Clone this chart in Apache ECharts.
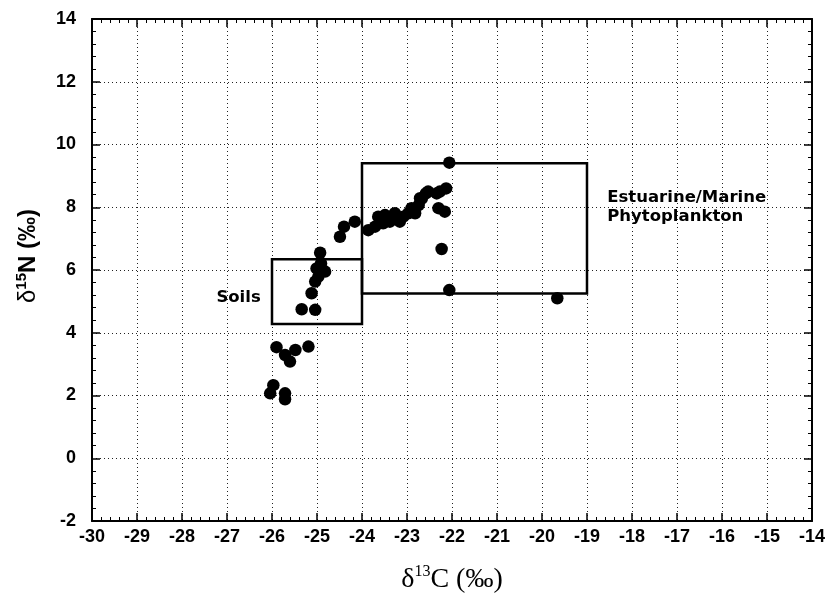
<!DOCTYPE html>
<html>
<head>
<meta charset="utf-8">
<script src="https://cdn.jsdelivr.net/npm/echarts@6/dist/echarts.min.js"></script>
<style>
  html, body { margin: 0; padding: 0; background: #ffffff; }
  #chart { width: 828px; height: 604px; }
</style>
</head>
<body>
<div id="chart"></div>
<script>
// Sample isotope values: δ13C (x) and δ15N (y), per mil
const carbon13 = [
  -22.06, -22.13, -22.27, -22.34, -22.53, -22.58, -22.67, -22.71, -22.74, -22.82,
  -22.90, -22.97, -23.08, -23.16, -23.27, -23.30, -23.38, -23.49, -23.53, -23.64,
  -23.71, -23.86, -24.16, -24.40, -24.49, -22.30, -22.16, -22.23, -22.06, -19.66,
  -24.93, -24.91, -25.01, -24.82, -24.97, -25.04, -25.12, -25.34, -25.04,
  -25.90, -25.71, -25.60, -25.48, -25.19, -25.97, -26.04, -25.71, -25.71
];
const nitrogen15 = [
   9.42,  8.60,  8.50,  8.44,  8.50,  8.44,  8.28,  8.29,  8.07,  7.81,
   7.97,  7.81,  7.70,  7.54,  7.81,  7.65,  7.54,  7.75,  7.49,  7.70,
   7.38,  7.27,  7.54,  7.38,  7.06,  7.97,  7.86,  6.67,  5.36,  5.10,
   6.55,  6.21,  6.05,  5.95,  5.79,  5.63,  5.26,  4.75,  4.73,
   3.54,  3.29,  3.08,  3.45,  3.56,  2.33,  2.07,  2.07,  1.88
];

// Source end-member ranges
const soilsRangeC = [-26, -24];
const soilsRangeN = [4.28, 6.34];
const phytoRangeC = [-24, -19];
const phytoRangeN = [5.25, 9.40];
const soilsLabel = 'Soils';
const phytoLabel = 'Estuarine/Marine\nPhytoplankton';

// Axis ranges and tick steps
const xRange = [-30, -14];
const xStep = 1;
const yRange = [-2, 14];
const yStep = 2;

const points = carbon13.map((c, i) => [c, nitrogen15[i]]);

const sansFont = '"Liberation Sans", Arial, sans-serif';
const wideFont = '"DejaVu Sans", sans-serif';
const serifFont = '"Liberation Serif", "Times New Roman", serif';

const axisLineStyle = { lineStyle: { color: '#000', width: 2 } };
const tickStyle = { inside: true, length: 8, lineStyle: { color: '#000', width: 1.5 } };
const minorStyle = { show: true, splitNumber: 5, length: 4, lineStyle: { color: '#000', width: 1 } };
const gridDots = { show: true, lineStyle: { color: '#222', width: 1, type: [1, 3] } };

function frameAxis(position, range, step, extra) {
  return Object.assign({
    type: 'value',
    position: position,
    min: range[0],
    max: range[1],
    interval: step,
    axisLine: Object.assign({ show: true, onZero: false }, axisLineStyle),
    axisTick: tickStyle,
    minorTick: minorStyle,
    splitLine: { show: false },
    axisLabel: { show: false }
  }, extra || {});
}

const chart = echarts.init(document.getElementById('chart'), null, { renderer: 'canvas' });

chart.setOption({
  animation: false,
  backgroundColor: '#ffffff',
  grid: { left: 92, right: 16, top: 19, bottom: 83 },
  xAxis: [
    frameAxis('bottom', xRange, xStep, {
      splitLine: gridDots,
      axisLabel: {
        show: true, margin: 7, color: '#000',
        fontFamily: sansFont, fontWeight: 'bold', fontSize: 18
      },
      name: '{d|δ}{s|13}{d|C (‰)}',
      nameLocation: 'middle',
      nameGap: 43,
      nameTextStyle: {
        color: '#000',
        rich: {
          d: { fontFamily: serifFont, fontSize: 28, color: '#000' },
          s: { fontFamily: serifFont, fontSize: 16, color: '#000', padding: [0, 0, 15, 0] }
        }
      }
    }),
    frameAxis('top', xRange, xStep)
  ],
  yAxis: [
    frameAxis('left', yRange, yStep, {
      splitLine: gridDots,
      axisLabel: {
        show: true, margin: 16, color: '#000',
        fontFamily: sansFont, fontWeight: 'bold', fontSize: 18
      },
      name: '{g|δ}{s|15}{d|N (‰)}',
      nameLocation: 'middle',
      nameRotate: 90,
      nameGap: 50,
      nameTextStyle: {
        color: '#000',
        padding: [0, 0, 0, 28],
        rich: {
          g: { fontFamily: sansFont, fontSize: 24, color: '#000' },
          d: { fontFamily: sansFont, fontSize: 24, fontWeight: 'bold', color: '#000' },
          s: { fontFamily: sansFont, fontSize: 15, fontWeight: 'bold', color: '#000', padding: [0, 0, 13, 0] }
        }
      }
    }),
    frameAxis('right', yRange, yStep)
  ],
  series: [
    {
      type: 'scatter',
      xAxisIndex: 0,
      yAxisIndex: 0,
      data: points,
      symbol: 'circle',
      symbolSize: 12.5,
      itemStyle: { color: '#000', opacity: 1 },
      z: 5,
      markArea: {
        silent: true,
        itemStyle: { color: 'rgba(0,0,0,0)', borderColor: '#000', borderWidth: 2.5 },
        label: {
          show: true, color: '#000',
          fontFamily: wideFont, fontWeight: 'bold', fontSize: 16.5
        },
        data: [
          [
            {
              name: soilsLabel,
              coord: [soilsRangeC[0], soilsRangeN[1]],
              label: { position: 'left', distance: 10, offset: [0, 6] }
            },
            { coord: [soilsRangeC[1], soilsRangeN[0]] }
          ],
          [
            {
              name: phytoLabel,
              coord: [phytoRangeC[0], phytoRangeN[1]],
              label: { position: 'right', distance: 19, offset: [0, -21], align: 'left', lineHeight: 19 }
            },
            { coord: [phytoRangeC[1], phytoRangeN[0]] }
          ]
        ]
      }
    }
  ]
});
</script>
</body>
</html>
